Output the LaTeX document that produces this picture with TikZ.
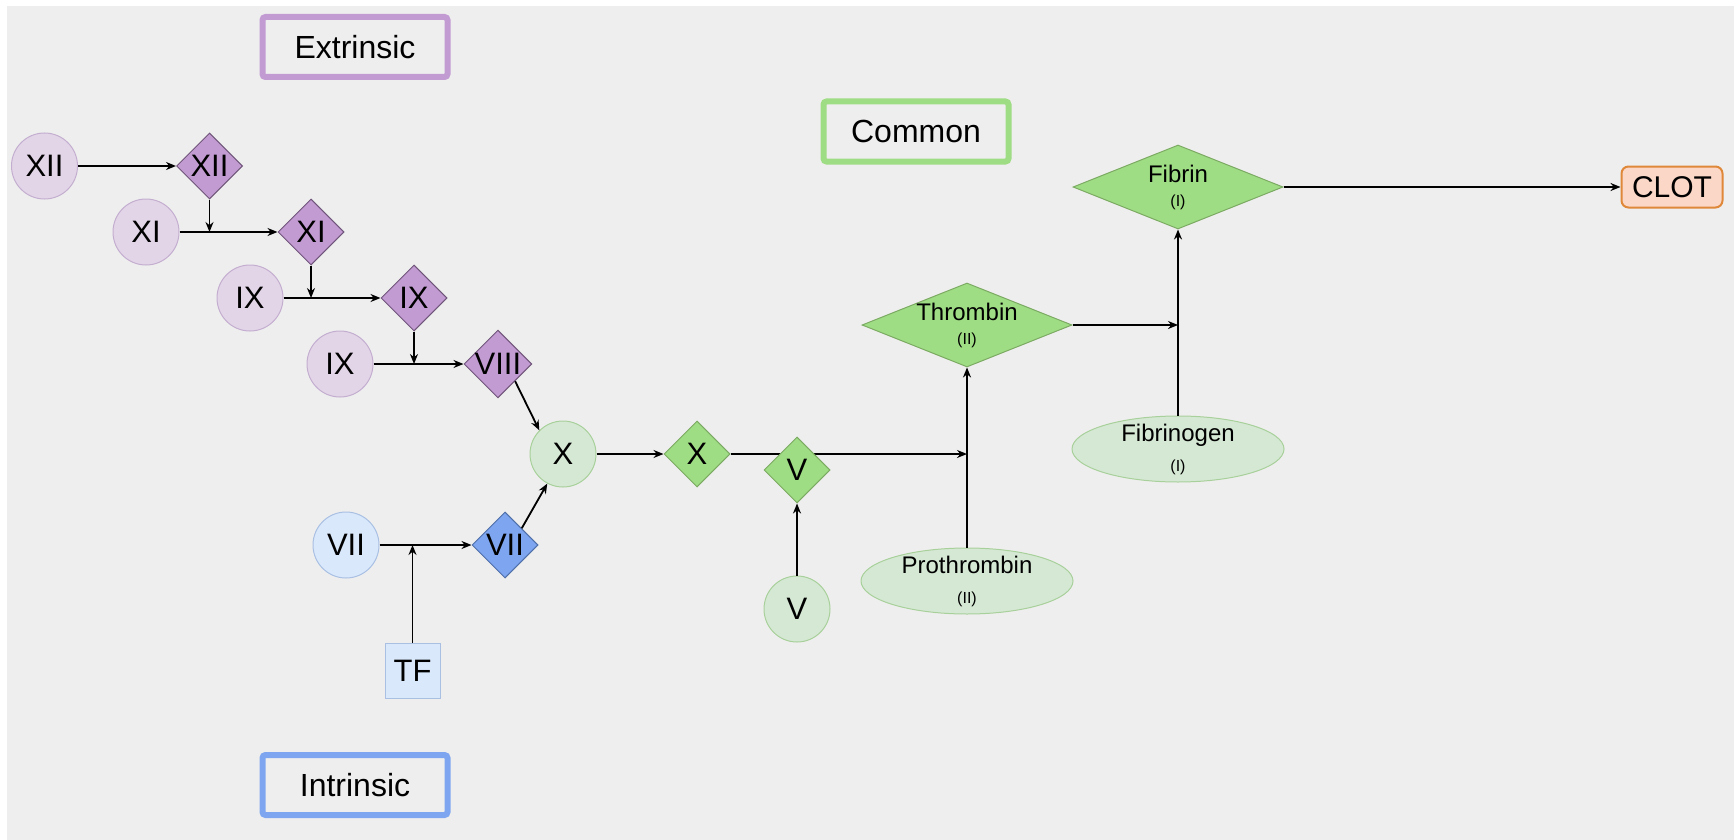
\documentclass[tikz,border=0pt]{standalone}
\usepackage{fontspec}
\setmainfont{Liberation Sans}
\usepackage{xcolor}
\usetikzlibrary{arrows.meta,positioning,shapes.geometric}

\definecolor{bggray}{HTML}{EEEEEE}
\definecolor{purlight}{HTML}{E3D5E8}
\definecolor{purline}{HTML}{C4AED0}
\definecolor{purdark}{HTML}{C39BD3}
\definecolor{purstroke}{HTML}{6F557A}
\definecolor{bluelight}{HTML}{DAE8FC}
\definecolor{blueline}{HTML}{A9C0E3}
\definecolor{bluedark}{HTML}{7EA6F0}
\definecolor{bluestroke}{HTML}{4F6FA8}
\definecolor{greenlight}{HTML}{D5E8D4}
\definecolor{greenline}{HTML}{A8D09A}
\definecolor{greendark}{HTML}{9FDD84}
\definecolor{greenstroke}{HTML}{7BAA62}
\definecolor{clotfill}{HTML}{FAD7C6}
\definecolor{clotline}{HTML}{E0883A}

\newcommand{\subl}{\fontsize{8}{10}\selectfont}

\begin{document}
\begin{tikzpicture}[x=0.5pt, y=-0.5pt, >={Stealth[length=5pt,width=4pt]},
  every node/.style={text=black},
  fcircle/.style={circle, draw, line width=0.5pt, minimum size=33pt, inner sep=0pt, font=\fontsize{15.5}{18}\selectfont},
  fdiamond/.style={diamond, draw, line width=0.5pt, minimum size=33pt, inner sep=0pt, font=\fontsize{15.5}{18}\selectfont},
  purc/.style={fcircle, fill=purlight, draw=purline},
  purd/.style={fdiamond, fill=purdark, draw=purstroke},
  bluec/.style={fcircle, fill=bluelight, draw=blueline},
  blued/.style={fdiamond, fill=bluedark, draw=bluestroke},
  greenc/.style={fcircle, fill=greenlight, draw=greenline},
  greend/.style={fdiamond, fill=greendark, draw=greenstroke},
  bigdiamond/.style={diamond, shape aspect=2.5, draw=greenstroke, fill=greendark, line width=0.5pt, minimum width=105pt, minimum height=42pt, inner xsep=0pt, inner ysep=-3pt, align=center, font=\fontsize{12}{12}\selectfont},
  bigellipse/.style={ellipse, draw=greenline, fill=greenlight, line width=0.5pt, minimum width=106pt, minimum height=33pt, inner xsep=0pt, inner ysep=-3pt, align=center, font=\fontsize{12}{15}\selectfont},
  tagbox/.style={rectangle, rounded corners=1.5pt, line width=3pt, minimum width=92.5pt, minimum height=30pt, font=\fontsize{16}{19}\selectfont},
  flow/.style={->, line width=0.9pt}]

% background
\fill[white] (0,0) rectangle (1734,840);
\fill[bggray] (7,6) rectangle (1734,840);
\useasboundingbox (0,0) rectangle (1734,840);

% pathway labels
\node[tagbox, draw=purdark] (ext) at (355,47) {Extrinsic};
\node[tagbox, draw=greendark] (com) at (916,131.5) {Common};
\node[tagbox, draw=bluedark] (intr) at (355,785) {Intrinsic};

% extrinsic cascade
\node[purc] (c12) at (44.5,166) {XII};
\node[purd, right=49pt of c12] (d12) {XII};
\node[purc] (c11) at (146,232) {XI};
\node[purd, right=49pt of c11] (d11) {XI};
\node[purc] (c9) at (250,298) {IX};
\node[purd, right=48.5pt of c9] (d9) {IX};
\node[purc] (c9b) at (340,364) {IX};
\node[purd, right=45pt of c9b] (d8) {VIII};

% intrinsic part
\node[bluec] (c7) at (346,545) {VII};
\node[blued, right=46pt of c7] (d7) {VII};
\node[rectangle, draw=blueline, fill=bluelight, line width=0.5pt, minimum size=27.5pt, inner sep=0pt, font=\fontsize{15.5}{18}\selectfont] (tf) at (412.5,670.5) {TF};

% common part
\node[greenc] (cx) at (563,454) {X};
\node[greend, right=33.5pt of cx] (dx) {X};
\node[bigdiamond] (thr) at (967,325) {Thrombin\\{\subl (II)}};
\node[bigellipse] (pro) at (967,581) {Prothrombin\\{\subl (II)}};
\node[bigdiamond] (fib) at (1178,187) {Fibrin\\{\subl (I)}};
\node[bigellipse] (fbg) at (1178,449) {Fibrinogen\\{\subl (I)}};
\node[rectangle, rounded corners=3.5pt, draw=clotline, fill=clotfill, line width=1pt, minimum width=50.5pt, minimum height=20.5pt, inner sep=0pt, font=\fontsize{15}{18}\selectfont] (clot) at (1672,187) {CLOT};

\draw[flow] (c12) -- (d12);
\draw[flow] (d12.south) -- (d12.south |- c11);
\draw[flow] (c11) -- (d11);
\draw[flow] (d11.south) -- (d11.south |- c9);
\draw[flow] (c9) -- (d9);
\draw[flow] (d9.south) -- (d9.south |- c9b);
\draw[flow] (c9b) -- (d8);
\draw[flow] (d8.south east) -- (cx.135);
\draw[flow] (c7) -- (d7);
\draw[flow] (tf.north) -- (tf.north |- c7);
\draw[flow] (d7.north east) -- (cx.242);
\draw[flow] (cx) -- (dx);
\draw[flow] (dx.east) -- (thr |- dx);

% V sits on top of the X line
\node[greend] (dv) at (797,470) {V};
\node[greenc] (cv) at (797,609) {V};
\draw[flow] (cv.north) -- (dv.south);

\draw[flow] (pro.north) -- (thr.south);
\draw[flow] (thr.east) -- (fbg.north |- thr);
\draw[flow] (fbg.north) -- (fib.south);
\draw[flow] (fib.east) -- (clot.west);
\end{tikzpicture}
\end{document}
